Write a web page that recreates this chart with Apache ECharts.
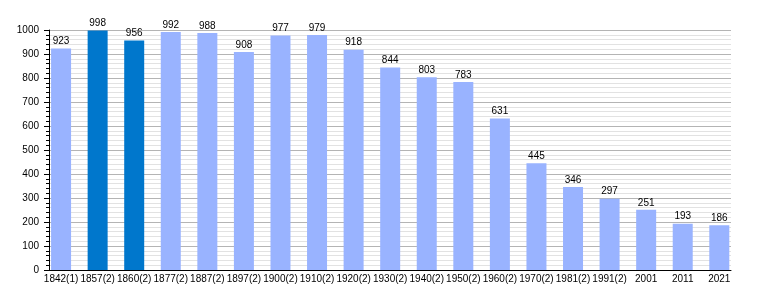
<!DOCTYPE html>
<html>
<head>
<meta charset="utf-8">
<script src="https://cdn.jsdelivr.net/npm/echarts@6/dist/echarts.min.js"></script>
<style>html,body{margin:0;padding:0;background:#fff}#c{width:760px;height:300px}</style>
</head>
<body>
<div id="c"></div>
<script>
var categories = ['1842(1)','1857(2)','1860(2)','1877(2)','1887(2)','1897(2)','1900(2)','1910(2)','1920(2)','1930(2)','1940(2)','1950(2)','1960(2)','1970(2)','1981(2)','1991(2)','2001','2011','2021'];
var population = [923, 998, 956, 992, 988, 908, 977, 979, 918, 844, 803, 783, 631, 445, 346, 297, 251, 193, 186];
var highlighted = ['1857(2)', '1860(2)'];
var yTicks = [0, 100, 200, 300, 400, 500, 600, 700, 800, 900, 1000];

var LIGHT = '#99b3ff', DARK = '#0077cc';
var FONT = 'Liberation Sans, Arial, sans-serif';

var data = population.map(function (v, i) {
  return {
    value: [i, v],
    itemStyle: { color: highlighted.indexOf(categories[i]) >= 0 ? DARK : LIGHT }
  };
});

var chart = echarts.init(document.getElementById('c'), null, { renderer: 'canvas' });
chart.setOption({
  animation: false,
  backgroundColor: '#fff',
  grid: { left: 49, right: 29, top: 30, bottom: 30, containLabel: false },
  xAxis: {
    type: 'value',
    min: -0.33,
    max: 18.32,
    axisLine: { show: true, onZero: false, lineStyle: { color: '#000', width: 1 } },
    axisTick: { show: false },
    splitLine: { show: false },
    axisLabel: {
      customValues: categories.map(function (c, i) { return i; }),
      formatter: function (v) { return categories[Math.round(v)]; },
      color: '#000', fontSize: 10, fontFamily: FONT, margin: 4, hideOverlap: false
    }
  },
  yAxis: {
    type: 'value',
    min: yTicks[0],
    max: yTicks[yTicks.length - 1],
    interval: 100,
    axisLine: { show: true, onZero: false, lineStyle: { color: '#000', width: 1 } },
    axisTick: { show: true, length: 5, lineStyle: { color: '#000' } },
    minorTick: { show: true, splitNumber: 5, length: 3, lineStyle: { color: '#000' } },
    splitLine: { show: true, lineStyle: { color: '#b4b4b4', width: 1 } },
    minorSplitLine: { show: true, lineStyle: { color: '#e2e2e2', width: 1 } },
    axisLabel: {
      color: '#000', fontSize: 10, fontFamily: FONT, margin: 10,
      formatter: function (v) { return String(v); }
    }
  },
  series: [{
    type: 'bar',
    data: data,
    barWidth: 20,
    clip: false,
    label: {
      show: true, position: 'top', distance: 2,
      color: '#000', fontSize: 10, fontFamily: FONT,
      formatter: function (p) { return p.value[1]; }
    }
  }]
});
</script>
</body>
</html>
